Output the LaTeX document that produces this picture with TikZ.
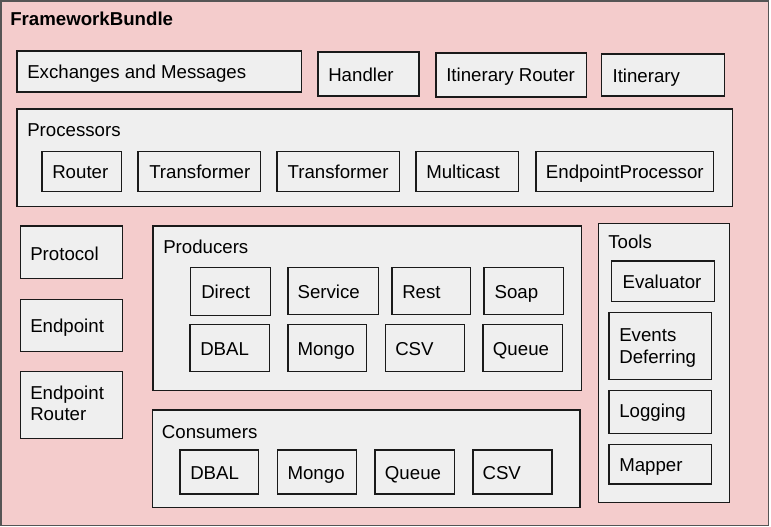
\documentclass[tikz,border=0pt]{standalone}
\usepackage{fontspec}
\setmainfont{Liberation Sans}
\definecolor{bundlepink}{HTML}{F4CCCC}
\definecolor{boxgrey}{HTML}{EFEFEF}
\definecolor{edge}{HTML}{1A1A1A}
\definecolor{outeredge}{HTML}{555555}
\begin{document}
\begin{tikzpicture}[x=0.75pt,y=-0.75pt,
  frame/.style={draw=outeredge,fill=bundlepink,line width=1pt},
  box/.style={draw=edge,fill=boxgrey,line width=1pt},
  lbl/.style={inner sep=0pt,anchor=base west,font=\fontsize{14pt}{16pt}\selectfont},
  title/.style={lbl,font=\fontsize{14pt}{16pt}\selectfont\bfseries}]
\useasboundingbox (0,0) rectangle (771,527);
\draw[frame] (1,1) rectangle (768.5,525.5);
\node[title] (bundle) at (10,26) {FrameworkBundle};
% top row
\draw[box] (17,51) rectangle (301.7,92);
\node[lbl] (exch) at (27,79) {Exchanges and Messages};
\draw[box] (318,52) rectangle (419,96);
\node[lbl] (handler) at (328,81.7) {Handler};
\draw[box] (436,53) rectangle (586.7,97);
\node[lbl] (itrouter) at (446,81.3) {Itinerary Router};
\draw[box] (601.7,54) rectangle (724.3,96);
\node[lbl] (itin) at (612.3,82.7) {Itinerary};
% processors
\draw[box] (17,109) rectangle (732.3,206.7);
\node[lbl] (proc) at (27,137) {Processors};
\draw[box] (42,151.7) rectangle (121.3,191.7);
\node[lbl] (router) at (52,179) {Router};
\draw[box] (138,151.7) rectangle (260.3,191.7);
\node[lbl] (trans1) at (149,179) {Transformer};
\draw[box] (277,151.7) rectangle (399.7,191.7);
\node[lbl] (trans2) at (287.3,179) {Transformer};
\draw[box] (416,151.7) rectangle (518.7,191.7);
\node[lbl] (multi) at (426,179) {Multicast};
\draw[box] (536,151.7) rectangle (713.3,191.7);
\node[lbl] (eproc) at (545.7,179) {EndpointProcessor};
% left column
\draw[box] (20.3,226) rectangle (122.7,278.7);
\node[lbl] (protocol) at (30,260.7) {Protocol};
\draw[box] (20.3,299.3) rectangle (122.7,351.7);
\node[lbl] (endpoint) at (30,332.7) {Endpoint};
\draw[box] (20.3,371.3) rectangle (122.7,438.7);
\node[lbl] (erouterA) at (30,399.3) {Endpoint};
\node[lbl] (erouterB) at (30,420.7) {Router};
% producers
\draw[box] (153,226) rectangle (581.3,390.7);
\node[lbl] (prod) at (163,253.3) {Producers};
\draw[box] (190.7,267.3) rectangle (270.7,315.7);
\node[lbl] (direct) at (201,298.7) {Direct};
\draw[box] (288,267.3) rectangle (378.3,314.7);
\node[lbl] (service) at (297.3,298.7) {Service};
\draw[box] (392,267.3) rectangle (470.3,314.3);
\node[lbl] (rest) at (402,298.7) {Rest};
\draw[box] (484,267.3) rectangle (563.3,314.3);
\node[lbl] (soap) at (494.3,298.7) {Soap};
\draw[box] (190,324.3) rectangle (269.7,371.7);
\node[lbl] (pdbal) at (200,355.3) {DBAL};
\draw[box] (288,324.3) rectangle (366.7,371.7);
\node[lbl] (pmongo) at (297.3,355.3) {Mongo};
\draw[box] (385.3,324.3) rectangle (464.7,371.7);
\node[lbl] (pcsv) at (395,355.3) {CSV};
\draw[box] (483,324.3) rectangle (562.7,371.7);
\node[lbl] (pqueue) at (492.7,355.3) {Queue};
% consumers
\draw[box] (152.3,410) rectangle (580,507.3);
\node[lbl] (cons) at (161.7,438.3) {Consumers};
\draw[box] (180,450) rectangle (258.7,494);
\node[lbl] (cdbal) at (190,479.3) {DBAL};
\draw[box] (277.3,450) rectangle (356.7,494);
\node[lbl] (cmongo) at (287.3,479.3) {Mongo};
\draw[box] (375,450) rectangle (454.7,494);
\node[lbl] (cqueue) at (384.7,479.3) {Queue};
\draw[box] (473,450) rectangle (552,494);
\node[lbl] (ccsv) at (482.3,479.3) {CSV};
% tools
\draw[box] (598.3,223.3) rectangle (729.7,502.7);
\node[lbl] (tools) at (608,249) {Tools};
\draw[box] (611.7,261) rectangle (714.7,301.3);
\node[lbl] (eval) at (622.3,288.7) {Evaluator};
\draw[box] (609,312.3) rectangle (711.7,379.3);
\node[lbl] (eventsA) at (619,341.7) {Events};
\node[lbl] (eventsB) at (619,363.3) {Deferring};
\draw[box] (609,390.3) rectangle (711.7,433.3);
\node[lbl] (logging) at (619,417.3) {Logging};
\draw[box] (609,444.3) rectangle (711.7,484);
\node[lbl] (mapper) at (619,471.7) {Mapper};
\end{tikzpicture}
\end{document}
